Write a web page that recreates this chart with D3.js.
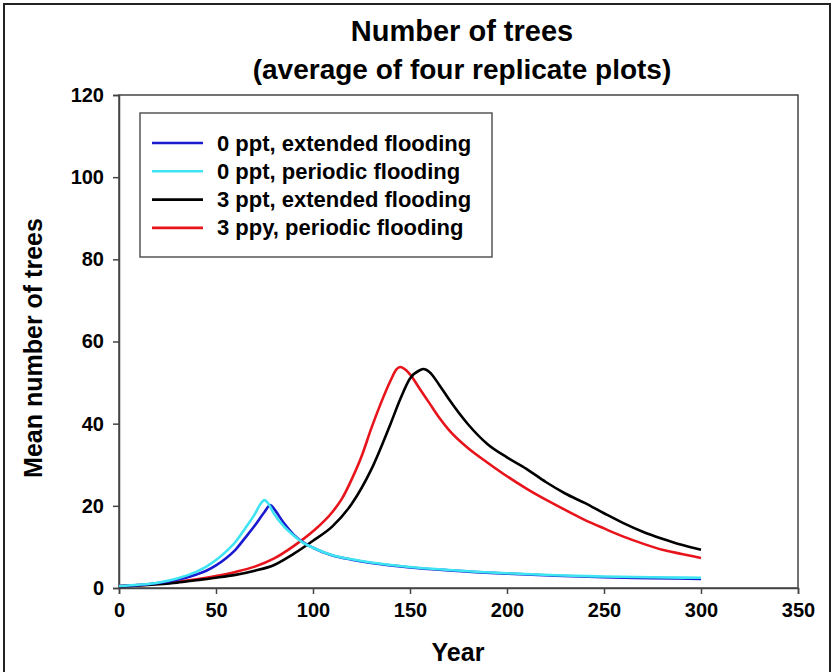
<!DOCTYPE html>
<html><head><meta charset="utf-8">
<script src="https://cdn.jsdelivr.net/npm/d3@7"></script>
<style>body{margin:0;background:#fff}svg{display:block}text{font-family:"Liberation Sans",Arial,sans-serif;font-weight:bold;fill:#000}</style>
</head><body><svg id="c" width="833" height="672"></svg>
<script>
const titleLines = ["Number of trees", "(average of four replicate plots)"];
const xLabel = "Year";
const yLabel = "Mean number of trees";
const xTicks = [0, 50, 100, 150, 200, 250, 300, 350];
const yTicks = [0, 20, 40, 60, 80, 100, 120];
const seriesNames = ["0 ppt, extended flooding", "0 ppt, periodic flooding", "3 ppt, extended flooding", "3 ppy, periodic flooding"];
const seriesColors = ["#1a1ad0", "#3fe4f2", "#000000", "#e8141c"];

const blueYears = [0,10,20,30,40,45,50,55,60,65,70,75,78,80,85,90,95,100,110,120,130,140,150,170,200,225,250,275,300];
const blueVals  = [0.5,0.7,1.2,2.0,3.3,4.2,5.5,7.2,9.3,12.2,15.2,18.5,20.2,19.2,15.8,13.0,11.1,9.8,7.9,6.9,6.1,5.5,5.0,4.3,3.5,3.0,2.6,2.4,2.2];
const cyanYears = [0,10,20,30,40,45,50,55,60,65,70,73,75,77,80,85,90,95,100,110,120,130,140,150,170,200,225,250,275,300];
const cyanVals  = [0.5,0.8,1.3,2.3,4.0,5.2,6.8,8.8,11.2,14.5,18.0,20.5,21.4,20.5,18.0,15.0,12.8,11.0,9.8,8.0,7.0,6.2,5.6,5.1,4.4,3.6,3.1,2.8,2.6,2.5];
const blackYears = [0,10,20,30,40,50,60,70,80,90,100,110,120,130,140,145,150,155,157,160,165,170,180,190,200,210,220,230,240,250,260,270,280,290,300];
const blackVals  = [0.4,0.6,0.9,1.3,1.9,2.5,3.2,4.2,5.6,8.3,11.5,15.0,20.5,28.8,40,46,51,53,53.3,52.6,49.5,46,39.8,35.0,31.8,29,25.8,23,20.7,18.2,15.8,13.7,12,10.5,9.3];
const redYears = [0,10,20,30,40,50,60,70,80,90,100,110,115,120,125,130,135,140,143,145,148,150,155,160,165,170,180,190,200,210,220,230,240,250,260,270,280,290,300];
const redVals  = [0.5,0.7,1.0,1.5,2.1,2.9,3.9,5.2,7.2,10.2,13.8,18.5,21.8,26.5,32,38.8,45,50.5,53.2,53.8,53,52,48.5,45,41.5,38.5,34,30.5,27.2,24.2,21.5,19,16.6,14.5,12.5,10.8,9.3,8.3,7.3];

const series = [
  {name: seriesNames[0], color: seriesColors[0], x: blueYears, y: blueVals},
  {name: seriesNames[1], color: seriesColors[1], x: cyanYears, y: cyanVals},
  {name: seriesNames[2], color: seriesColors[2], x: blackYears, y: blackVals},
  {name: seriesNames[3], color: seriesColors[3], x: redYears, y: redVals}
];

const svg = d3.select("#c");
const L = 119, R = 798, T = 95, B = 588;
const x = d3.scaleLinear().domain([0, 350]).range([L, R]);
const y = d3.scaleLinear().domain([0, 120]).range([B, T]);

// outer frame
svg.append("rect").attr("x", 4).attr("y", 4).attr("width", 826).attr("height", 672)
  .attr("fill", "none").attr("stroke", "#222").attr("stroke-width", 2);

// title
svg.append("text").attr("x", 462).attr("y", 41).attr("text-anchor", "middle")
  .style("font-size", "29px").text(titleLines[0]);
svg.append("text").attr("x", 462).attr("y", 79).attr("text-anchor", "middle")
  .style("font-size", "28px").text(titleLines[1]);

// plot frame
svg.append("rect").attr("x", L).attr("y", T).attr("width", R - L).attr("height", B - T)
  .attr("fill", "none").attr("stroke", "#444").attr("stroke-width", 1.5);

// axes
const xAxis = svg.append("g").attr("transform", `translate(0,${B})`)
  .call(d3.axisBottom(x).tickValues(xTicks).tickSize(6).tickPadding(9).tickFormat(d3.format("d")));
const yAxis = svg.append("g").attr("transform", `translate(${L},0)`)
  .call(d3.axisLeft(y).tickValues(yTicks).tickSize(6).tickPadding(9).tickFormat(d3.format("d")));
[xAxis, yAxis].forEach(g => {
  g.select(".domain").attr("stroke", "#444").attr("stroke-width", 1.5);
  g.selectAll(".tick line").attr("stroke", "#444").attr("stroke-width", 1.5);
  g.selectAll(".tick text").style("font-size", "20px").style("font-family", "'Liberation Sans',Arial,sans-serif").style("font-weight", "bold").attr("fill", "#000");
});

// axis titles
svg.append("text").attr("x", 458).attr("y", 661).attr("text-anchor", "middle")
  .style("font-size", "25px").text(xLabel);
svg.append("text").attr("transform", `translate(42,348) rotate(-90)`)
  .attr("text-anchor", "middle").style("font-size", "25px").text(yLabel);

// lines
const line = d3.line().x(d => x(d[0])).y(d => y(d[1])).curve(d3.curveMonotoneX);
const drawOrder = [3, 2, 0, 1];
drawOrder.forEach(i => {
  const s = series[i];
  const pts = s.x.map((v, k) => [v, s.y[k]]);
  svg.append("path").datum(pts).attr("d", line).attr("fill", "none")
    .attr("stroke", s.color).attr("stroke-width", 2.6).attr("stroke-linejoin", "round");
});

// legend
const lg = svg.append("g");
lg.append("rect").attr("x", 140).attr("y", 113).attr("width", 352).attr("height", 144)
  .attr("fill", "#fff").attr("stroke", "#555").attr("stroke-width", 1.5);
series.forEach((s, i) => {
  const cy = 143 + i * 28.3;
  lg.append("line").attr("x1", 152).attr("x2", 203).attr("y1", cy).attr("y2", cy)
    .attr("stroke", s.color).attr("stroke-width", 2.6);
  lg.append("text").attr("x", 217).attr("y", cy + 7.5).style("font-size", "22px").text(s.name);
});
</script></body></html>
